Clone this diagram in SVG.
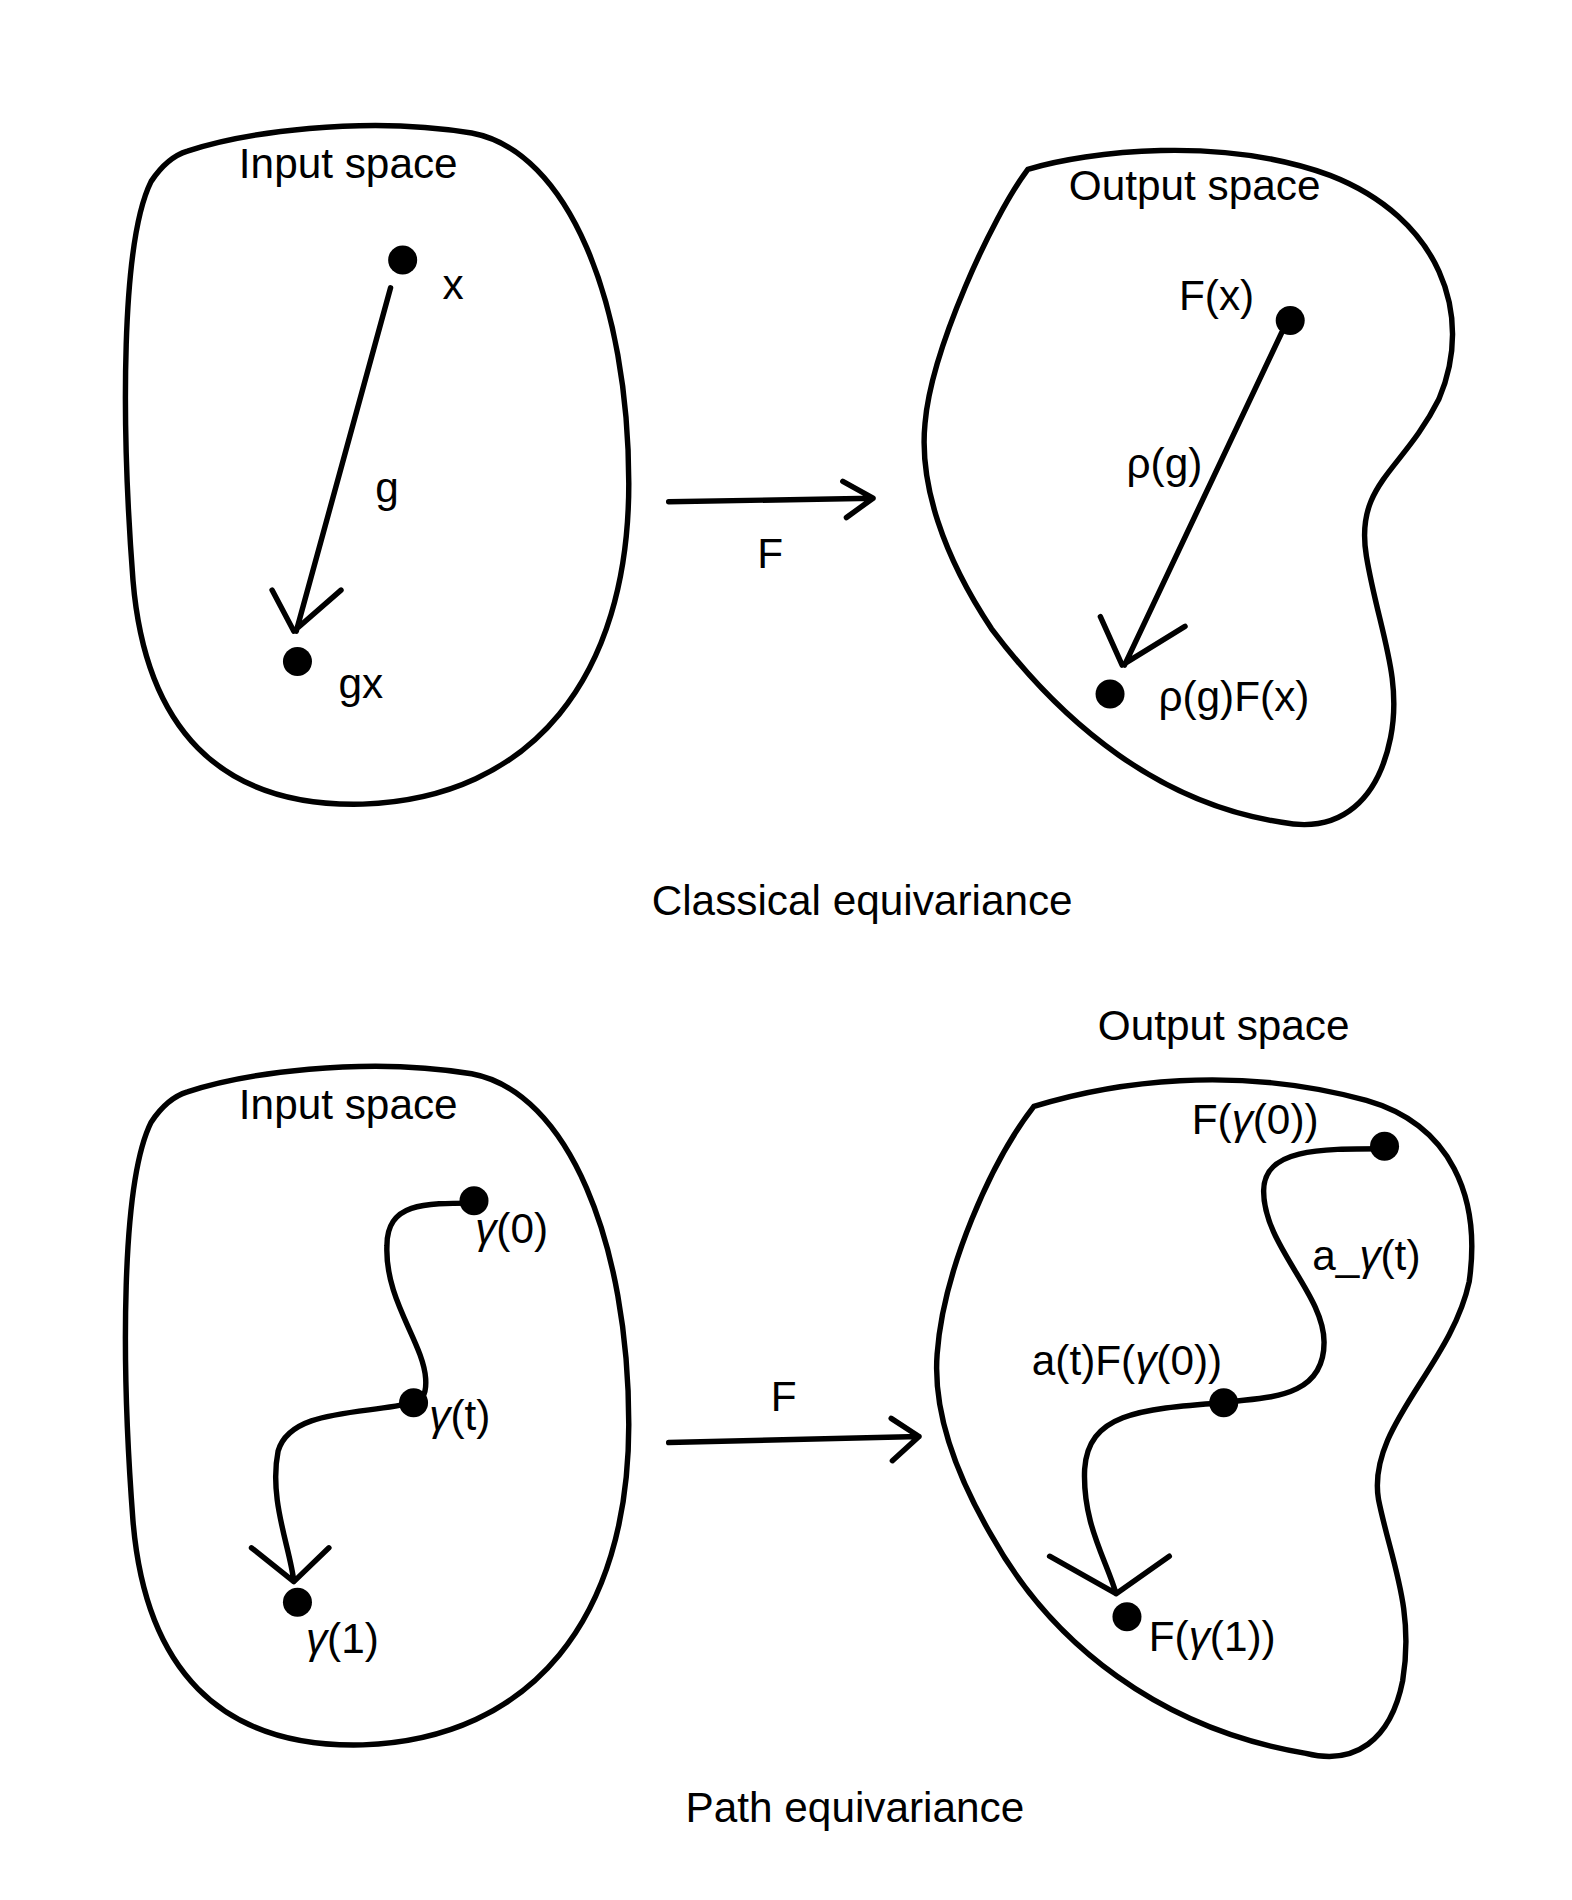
<svg xmlns="http://www.w3.org/2000/svg" width="1572" height="1900" viewBox="0 0 1572 1900">
<style>
.b{fill:none;stroke:#000;stroke-width:4.5;stroke-linecap:round;stroke-linejoin:round}
.t{font-family:"Liberation Sans",Arial,sans-serif;font-size:35px;fill:#000}
.m{text-anchor:middle}
.d{fill:#000}
</style>
<rect width="1572" height="1900" fill="#fff"/>
<g transform="scale(1.2092)">
<g id="input1">
<path class="b" d="M155,125 C200,110 300,95 390,110 C470,125 520,250 520,400 C520,560 440,660 300,665 C180,668 120,600 110,480 C100,350 100,200 125,150 C135,135 145,128 155,125 Z"/>
<text class="t m" x="288" y="147">Input space</text>
</g>
<g id="output1">
<path class="b" d="M850,140 C900,125 1010,112 1100,145 C1190,180 1220,260 1190,330 C1160,390 1120,400 1130,460 C1140,520 1160,560 1150,610 C1140,660 1110,690 1060,680 C960,665 880,600 820,520 C780,460 760,400 765,350 C770,290 820,180 850,140 Z"/>
<text class="t m" x="988" y="165">Output space</text>
</g>
<g id="x"><circle class="d" cx="333" cy="215" r="12"/><text class="t" x="366" y="247">x</text></g>
<g id="gx"><circle class="d" cx="246" cy="547" r="12"/><text class="t" x="280" y="577">gx</text></g>
<g id="Fx"><circle class="d" cx="1067" cy="265" r="12"/><text class="t" x="975" y="256">F(x)</text></g>
<g id="rgFx"><circle class="d" cx="918" cy="574" r="12"/><text class="t" x="958" y="588">ρ(g)F(x)</text></g>
<g id="input2">
<path class="b" transform="translate(0,778)" d="M155,125 C200,110 300,95 390,110 C470,125 520,250 520,400 C520,560 440,660 300,665 C180,668 120,600 110,480 C100,350 100,200 125,150 C135,135 145,128 155,125 Z"/>
<text class="t m" x="288" y="925">Input space</text>
</g>
<g id="output2">
<path class="b" d="M855,915 C920,895 1020,880 1130,910 C1200,930 1225,990 1215,1060 C1200,1130 1130,1180 1140,1240 C1150,1290 1170,1330 1160,1390 C1150,1440 1120,1460 1080,1450 C960,1430 870,1360 820,1270 C785,1210 772,1160 775,1120 C780,1050 820,960 855,915 Z"/>
<text class="t m" x="1012" y="860">Output space</text>
</g>
<g id="g0"><circle class="d" cx="392" cy="993" r="12"/><text class="t" x="393" y="1028"><tspan font-style="italic">γ</tspan>(0)</text></g>
<g id="gt"><circle class="d" cx="342" cy="1160" r="12"/><text class="t" x="355" y="1183"><tspan font-style="italic">γ</tspan>(t)</text></g>
<g id="g1"><circle class="d" cx="246" cy="1325" r="12"/><text class="t" x="253" y="1367"><tspan font-style="italic">γ</tspan>(1)</text></g>
<g id="Fg0"><circle class="d" cx="1145" cy="948" r="12"/><text class="t m" x="1038" y="938">F(<tspan font-style="italic">γ</tspan>(0))</text></g>
<g id="atF"><circle class="d" cx="1012" cy="1160" r="12"/><text class="t m" x="932" y="1137">a(t)F(<tspan font-style="italic">γ</tspan>(0))</text></g>
<g id="Fg1"><circle class="d" cx="932" cy="1337" r="12"/><text class="t" x="950" y="1365">F(<tspan font-style="italic">γ</tspan>(1))</text></g>
<g id="connectors">
<path class="b" d="M323,238 L245,522 M225,488 L243,522 L282,488"/>
<path class="b" d="M553,415 L722,412 M697,398 L722,412 L700,428"/>
<path class="b" d="M1060,275 L930,550 M910,510 L928,550 L980,518"/>
<path class="b" d="M392,995 C350,995 320,995 320,1030 C318,1075 350,1110 352,1140 C353,1155 348,1158 342,1160 C300,1170 240,1165 230,1200 C222,1240 240,1280 243,1308 M208,1280 L243,1308 L272,1280"/>
<path class="b" d="M553,1193 L760,1188 M737,1173 L760,1188 L738,1208"/>
<path class="b" d="M1145,950 C1090,950 1045,950 1045,985 C1045,1030 1095,1070 1095,1110 C1095,1160 1040,1155 1012,1160 C940,1165 900,1170 897,1215 C895,1260 915,1290 923,1318 M868,1287 L923,1318 L967,1287"/>
<text class="t m" x="320" y="415">g</text>
<text class="t m" x="637" y="470">F</text>
<text class="t m" x="963" y="395">ρ(g)</text>
<text class="t m" x="648" y="1167">F</text>
<text class="t m" x="1130" y="1050">a_<tspan font-style="italic">γ</tspan>(t)</text>
</g>
<text class="t m" x="713" y="757">Classical equivariance</text>
<text class="t m" x="707" y="1507">Path equivariance</text>
</g>
</svg>
